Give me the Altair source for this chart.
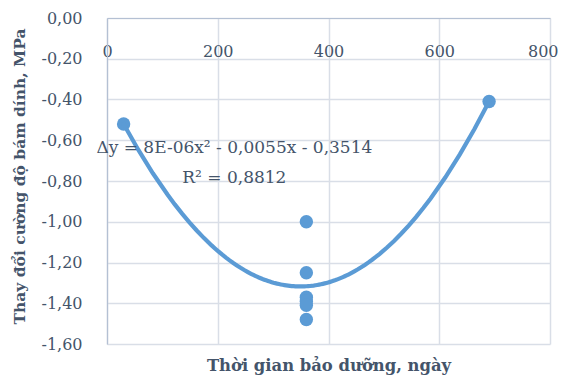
import altair as alt
import pandas as pd

# Data
days = [30, 360, 360, 360, 360, 360, 360, 690]
delta = [-0.52, -1.00, -1.25, -1.37, -1.39, -1.41, -1.48, -0.41]

eq_text = ["\u0394y  =  8E-06x\u00b2 - 0,0055x - 0,3514", "R\u00b2  =  0,8812"]
eq_x = [230, 230]
eq_y = [-0.638, -0.785]

x_ticks = [0, 200, 400, 600, 800]
y_ticks = [0, -0.2, -0.4, -0.6, -0.8, -1.0, -1.2, -1.4, -1.6]

df = pd.DataFrame({"x": days, "y": delta})
ann = pd.DataFrame({"t": eq_text, "x": eq_x, "y": eq_y})

FONT = "DejaVu Serif"
TXT = "#44546A"
GRID = "#D9DEE7"
DOMAIN = "#B4C0D3"
BLUE = "#5B9BD5"

xscale = alt.Scale(domain=[0, 800], nice=False, zero=False)
yscale = alt.Scale(domain=[-1.6, 0], nice=False, zero=False)

xaxis = alt.Axis(
    orient="top", values=x_ticks, tickSize=0, ticks=False, labelFlush=False,
    labelAlign={"expr": "datum.value >= 800 ? 'right' : 'center'"},
    labelOffset={"expr": "datum.value >= 800 ? 8 : 0"},
    labelPadding=-33, labelBaseline="middle", labelFont=FONT, labelFontSize=16,
    labelColor=TXT, domainColor=DOMAIN, domainWidth=1.2, gridColor=GRID, gridWidth=1.5,
    title="Thời gian bảo dưỡng, ngày", titleFont=FONT, titleFontSize=16.4,
    titleFontWeight="bold", titleColor=TXT, titleY=347, titleBaseline="middle",
)
yaxis = alt.Axis(
    values=y_ticks, tickSize=0, ticks=False, labelPadding=25, labelFlush=False,
    labelExpr="replace(replace(format(datum.value, '.2f'), '.', ','), '\u2212', '-')",
    labelFont=FONT, labelFontSize=16, labelColor=TXT,
    domainColor=DOMAIN, domainWidth=1.2, gridColor=GRID, gridWidth=1.5,
    title="Thay đổi cường độ bám dính, MPa", titleFont=FONT, titleFontSize=15.5,
    titleFontWeight="bold", titleColor=TXT, titleX=-88, titleY=158,
    titleBaseline="middle", titleAngle=-90,
)

base = alt.Chart(df)

points = base.mark_circle(size=180, color=BLUE, opacity=1).encode(
    x=alt.X("x:Q", scale=xscale, axis=xaxis),
    y=alt.Y("y:Q", scale=yscale, axis=yaxis),
)

trend = base.transform_regression("x", "y", method="poly", order=2).mark_line(
    color=BLUE, strokeWidth=4.2, strokeCap="round"
).encode(
    x=alt.X("x:Q", scale=xscale),
    y=alt.Y("y:Q", scale=yscale),
)

labels = alt.Chart(ann).mark_text(
    font=FONT, fontSize=17, color=TXT, align="center", baseline="middle"
).encode(
    x=alt.X("x:Q", scale=xscale),
    y=alt.Y("y:Q", scale=yscale),
    text="t:N",
)

chart = alt.layer(points, trend, labels).properties(
    width=443, height=326,
    autosize=alt.AutoSizeParams(type="none"),
    padding={"left": 99, "top": 10, "right": 8, "bottom": 34},
    background="white",
).configure_view(stroke=None)

chart.save("out.html", embed_options={"renderer": "svg", "actions": False})
